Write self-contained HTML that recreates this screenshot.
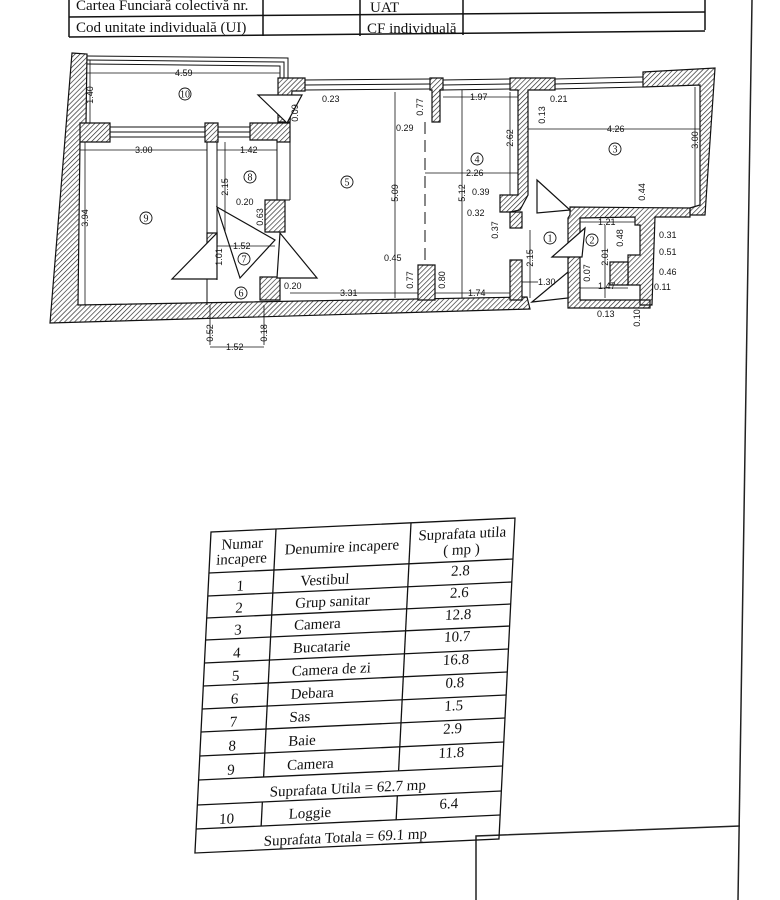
<!DOCTYPE html>
<html><head><meta charset="utf-8"><style>
html,body{margin:0;padding:0;background:#fff;}
svg{display:block}
.d{font-family:"Liberation Sans",sans-serif;font-size:9px;fill:#111}
.c{font-family:"Liberation Serif",serif;font-size:12px;fill:#111;text-anchor:middle}
.h{font-family:"Liberation Serif",serif;font-size:15px;fill:#111}
.t{font-family:"Liberation Serif",serif;font-size:15px;fill:#111}
</style></head><body>
<svg width="780" height="900" viewBox="0 0 780 900" xmlns="http://www.w3.org/2000/svg">
<defs>
<pattern id="hp" width="3.5" height="3.5" patternUnits="userSpaceOnUse" patternTransform="rotate(45)">
<rect width="4" height="4" fill="#fff"/><line x1="0" y1="0" x2="0" y2="4" stroke="#222" stroke-width="1.3"/>
</pattern>
</defs>
<g stroke="#111" stroke-width="1.5" fill="none">
<line x1="69" y1="0" x2="69" y2="37"/>
<line x1="263" y1="0" x2="263" y2="36"/>
<line x1="360" y1="0" x2="360" y2="36"/>
<line x1="463" y1="0" x2="463" y2="35"/>
<line x1="705" y1="0" x2="705" y2="30"/>
<line x1="69" y1="17" x2="705" y2="12"/>
<line x1="69" y1="37" x2="705" y2="31"/>
</g>
<text class="h" x="76" y="10">Cartea Funciară colectivă nr.</text>
<text class="h" x="370" y="12">UAT</text>
<text class="h" x="76" y="32">Cod unitate individuală (UI)</text>
<text class="h" x="367" y="33">CF individuală</text>
<line x1="752" y1="0" x2="738" y2="900" stroke="#222" stroke-width="1.5"/>
<polyline points="476,900 476,836 740,826" fill="none" stroke="#222" stroke-width="1.5"/>

<g fill="url(#hp)" stroke="#111" stroke-width="1.2">
<polygon points="72,53 87,54 86,123 80,142 78,305 527,297 530,309 50,323"/>
<polygon points="278,78 305,78 305,91 292,91 290,122 278,122"/>
<polygon points="80,123 110,123 110,142 80,142"/>
<polygon points="205,123 218,123 218,142 205,142"/>
<polygon points="250,123 290,123 290,142 277,142 277,140 250,140"/>
<polygon points="265,200 285,200 285,232 265,232"/>
<polygon points="207,233 217,233 217,243 207,243"/>
<polygon points="430,78 443,78 443,90 440,90 440,122 432,122 432,90 430,90"/>
<polygon points="510,78 555,78 555,90 528,90 528,195 520,210 510,212 500,212 500,195 518,195 518,90 510,90"/>
<polygon points="510,212 522,212 522,228 510,228"/>
<polygon points="643,72 715,68 705,215 690,215 690,208 700,205 700,85 643,87"/>
<polygon points="570,207 690,208 690,217 655,217 652,305 640,305 640,285 628,285 628,255 640,255 640,225 635,225 635,217 580,218 580,300 650,300 650,308 568,308 568,218 570,215"/>
<polygon points="510,260 522,260 522,300 510,300"/>
<polygon points="418,265 435,265 435,300 418,300"/>
<polygon points="260,277 280,277 280,300 260,300"/>
<polygon points="610,262 628,262 628,285 610,285"/>
</g>
<g stroke="#111" stroke-width="1" fill="none">
<polyline points="87,56 288,58 288,78"/>
<polyline points="87,60 284,62 284,78"/>
<polyline points="87,64 280,66 280,78"/>
<line x1="110" y1="127" x2="205" y2="127"/><line x1="110" y1="132" x2="205" y2="132"/><line x1="110" y1="137" x2="205" y2="137"/>
<line x1="218" y1="127" x2="250" y2="127"/><line x1="218" y1="132" x2="250" y2="132"/><line x1="218" y1="137" x2="250" y2="137"/>
<line x1="305" y1="80" x2="430" y2="79"/><line x1="305" y1="85" x2="430" y2="84"/><line x1="305" y1="90" x2="430" y2="89"/>
<line x1="443" y1="80" x2="510" y2="79"/><line x1="443" y1="85" x2="510" y2="84"/><line x1="443" y1="90" x2="510" y2="89"/>
<line x1="555" y1="79" x2="643" y2="77"/><line x1="555" y1="84" x2="643" y2="82"/><line x1="555" y1="89" x2="643" y2="87"/>
<line x1="207" y1="142" x2="207" y2="305"/><line x1="217" y1="142" x2="217" y2="233"/><line x1="217" y1="243" x2="217" y2="280"/>
<line x1="277" y1="142" x2="277" y2="200"/><line x1="290" y1="122" x2="290" y2="200"/><line x1="285" y1="200" x2="290" y2="200"/>
<line x1="425" y1="122" x2="425" y2="265" stroke-dasharray="12,6"/>
</g>
<g fill="#fff" stroke="#111" stroke-width="1.2">
<polygon points="258,95 302,95 287,123"/>
<polygon points="537,180 570,210 537,213"/>
<polygon points="552,257 585,228 582,257"/>
<polygon points="532,302 568,272 568,298"/>
<polygon points="172,279 217,233 217,279"/>
<polygon points="277,278 317,278 280,233"/>
<polygon points="217,207 240,278 275,240"/>
</g>
<g stroke="#111" stroke-width="0.8" fill="none">
<line x1="87" y1="73" x2="280" y2="73"/><line x1="90" y1="60" x2="90" y2="123"/>
<line x1="80" y1="150" x2="207" y2="150"/><line x1="217" y1="150" x2="277" y2="150"/>
<line x1="85" y1="142" x2="85" y2="305"/>
<line x1="225" y1="142" x2="225" y2="232"/>
<line x1="395" y1="92" x2="395" y2="298"/><line x1="462" y1="90" x2="462" y2="298"/>
<line x1="425" y1="173" x2="518" y2="173"/><line x1="443" y1="97" x2="518" y2="97"/>
<line x1="510" y1="92" x2="510" y2="195"/><line x1="528" y1="129" x2="700" y2="129"/>
<line x1="695" y1="87" x2="695" y2="207"/>
<line x1="290" y1="293" x2="418" y2="293"/><line x1="435" y1="293" x2="510" y2="293"/>
<line x1="217" y1="246" x2="275" y2="246"/>
<line x1="210" y1="347" x2="264" y2="347"/><line x1="210" y1="305" x2="210" y2="345"/><line x1="264" y1="305" x2="264" y2="345"/>
<line x1="530" y1="230" x2="530" y2="298"/><line x1="522" y1="282" x2="538" y2="282"/>
<line x1="605" y1="225" x2="605" y2="298"/><line x1="580" y1="222" x2="635" y2="222"/><line x1="580" y1="288" x2="628" y2="288"/>
</g>
<g class="d">
<text x="175" y="76">4.59</text>
<text x="322" y="102">0.23</text>
<text x="470" y="100">1.97</text>
<text x="550" y="102">0.21</text>
<text x="396" y="131">0.29</text>
<text x="607" y="132">4.26</text>
<text x="135" y="153">3.00</text>
<text x="240" y="153">1.42</text>
<text x="466" y="176">2.26</text>
<text x="472" y="195">0.39</text>
<text x="236" y="205">0.20</text>
<text x="467" y="216">0.32</text>
<text x="598" y="225">1.21</text>
<text x="659" y="238">0.31</text>
<text x="233" y="249">1.52</text>
<text x="659" y="255">0.51</text>
<text x="384" y="261">0.45</text>
<text x="659" y="275">0.46</text>
<text x="538" y="285">1.30</text>
<text x="598" y="289">1.47</text>
<text x="654" y="290">0.11</text>
<text x="284" y="289">0.20</text>
<text x="340" y="296">3.31</text>
<text x="468" y="296">1.74</text>
<text x="597" y="317">0.13</text>
<text x="226" y="350">1.52</text>
<text transform="translate(93,95) rotate(-90)" text-anchor="middle">1.40</text>
<text transform="translate(298,113) rotate(-90)" text-anchor="middle">0.09</text>
<text transform="translate(423,107) rotate(-90)" text-anchor="middle">0.77</text>
<text transform="translate(545,115) rotate(-90)" text-anchor="middle">0.13</text>
<text transform="translate(698,140) rotate(-90)" text-anchor="middle">3.00</text>
<text transform="translate(513,138) rotate(-90)" text-anchor="middle">2.62</text>
<text transform="translate(228,187) rotate(-90)" text-anchor="middle">2.15</text>
<text transform="translate(398,193) rotate(-90)" text-anchor="middle">5.09</text>
<text transform="translate(465,193) rotate(-90)" text-anchor="middle">5.12</text>
<text transform="translate(645,192) rotate(-90)" text-anchor="middle">0.44</text>
<text transform="translate(263,217) rotate(-90)" text-anchor="middle">0.63</text>
<text transform="translate(88,218) rotate(-90)" text-anchor="middle">3.94</text>
<text transform="translate(498,230) rotate(-90)" text-anchor="middle">0.37</text>
<text transform="translate(623,238) rotate(-90)" text-anchor="middle">0.48</text>
<text transform="translate(608,257) rotate(-90)" text-anchor="middle">2.01</text>
<text transform="translate(222,257) rotate(-90)" text-anchor="middle">1.01</text>
<text transform="translate(533,258) rotate(-90)" text-anchor="middle">2.15</text>
<text transform="translate(590,273) rotate(-90)" text-anchor="middle">0.07</text>
<text transform="translate(413,280) rotate(-90)" text-anchor="middle">0.77</text>
<text transform="translate(445,280) rotate(-90)" text-anchor="middle">0.80</text>
<text transform="translate(640,318) rotate(-90)" text-anchor="middle">0.10</text>
<text transform="translate(213,333) rotate(-90)" text-anchor="middle">0.52</text>
<text transform="translate(267,333) rotate(-90)" text-anchor="middle">0.18</text>
</g>
<g fill="none" stroke="#111" stroke-width="0.9">
<circle cx="185" cy="94" r="6"/><circle cx="615" cy="149" r="6"/><circle cx="477" cy="159" r="6"/>
<circle cx="250" cy="177" r="6"/><circle cx="347" cy="182" r="6"/><circle cx="146" cy="218" r="6"/>
<circle cx="550" cy="238" r="6"/><circle cx="592" cy="240" r="6"/><circle cx="244" cy="259" r="6"/><circle cx="241" cy="293" r="6"/>
</g>
<g class="c" style="font-size:10px">
<text x="185" y="97.5">10</text><text x="615" y="152.5">3</text><text x="477" y="162.5">4</text>
<text x="250" y="180.5">8</text><text x="347" y="185.5">5</text><text x="146" y="221.5">9</text>
<text x="550" y="241.5">1</text><text x="592" y="243.5">2</text><text x="244" y="262.5">7</text><text x="241" y="296.5">6</text>
</g>

<g transform="matrix(1,-0.046,-0.05,1,211,532)">
<g stroke="#111" stroke-width="1.3" fill="none">
<rect x="0" y="0" width="304" height="321"/>
<line x1="65" y1="0" x2="65" y2="248"/>
<line x1="200" y1="0" x2="200" y2="248"/>
<line x1="0" y1="41" x2="304" y2="41"/>
<line x1="0" y1="64" x2="304" y2="64"/><line x1="0" y1="86" x2="304" y2="86"/>
<line x1="0" y1="108" x2="304" y2="108"/><line x1="0" y1="131" x2="304" y2="131"/>
<line x1="0" y1="154" x2="304" y2="154"/><line x1="0" y1="177" x2="304" y2="177"/>
<line x1="0" y1="200" x2="304" y2="200"/><line x1="0" y1="224" x2="304" y2="224"/>
<line x1="0" y1="248" x2="304" y2="248"/><line x1="0" y1="273" x2="304" y2="273"/>
<line x1="0" y1="297" x2="304" y2="297"/>
<line x1="65" y1="273" x2="65" y2="297"/><line x1="200" y1="273" x2="200" y2="297"/>
</g>
<g class="t">
<text x="32" y="18" text-anchor="middle">Numar</text>
<text x="32" y="33" text-anchor="middle">incapere</text>
<text x="132" y="26" text-anchor="middle">Denumire incapere</text>
<text x="252" y="18" text-anchor="middle">Suprafata utila</text>
<text x="252" y="34" text-anchor="middle">( mp )</text>
<g text-anchor="middle">
<text x="32" y="60">1</text><text x="32" y="82">2</text><text x="32" y="104">3</text><text x="32" y="127">4</text>
<text x="32" y="150">5</text><text x="32" y="173">6</text><text x="32" y="196">7</text><text x="32" y="220">8</text><text x="32" y="244">9</text>
<text x="252" y="55">2.8</text><text x="252" y="77">2.6</text><text x="252" y="99">12.8</text><text x="252" y="121">10.7</text>
<text x="252" y="144">16.8</text><text x="252" y="167">0.8</text><text x="252" y="190">1.5</text><text x="252" y="213">2.9</text><text x="252" y="237">11.8</text>
<text x="150" y="268">Suprafata Utila = 62.7 mp</text>
<text x="30" y="293">10</text><text x="252" y="288">6.4</text>
<text x="150" y="317">Suprafata Totala = 69.1 mp</text>
</g>
<text x="92" y="58">Vestibul</text><text x="88" y="80">Grup sanitar</text><text x="88" y="102">Camera</text>
<text x="88" y="125">Bucatarie</text><text x="88" y="148">Camera de zi</text><text x="88" y="171">Debara</text>
<text x="88" y="194">Sas</text><text x="88" y="218">Baie</text><text x="88" y="242">Camera</text>
<text x="92" y="291">Loggie</text>
</g>
</g>
</svg>
</body></html>
